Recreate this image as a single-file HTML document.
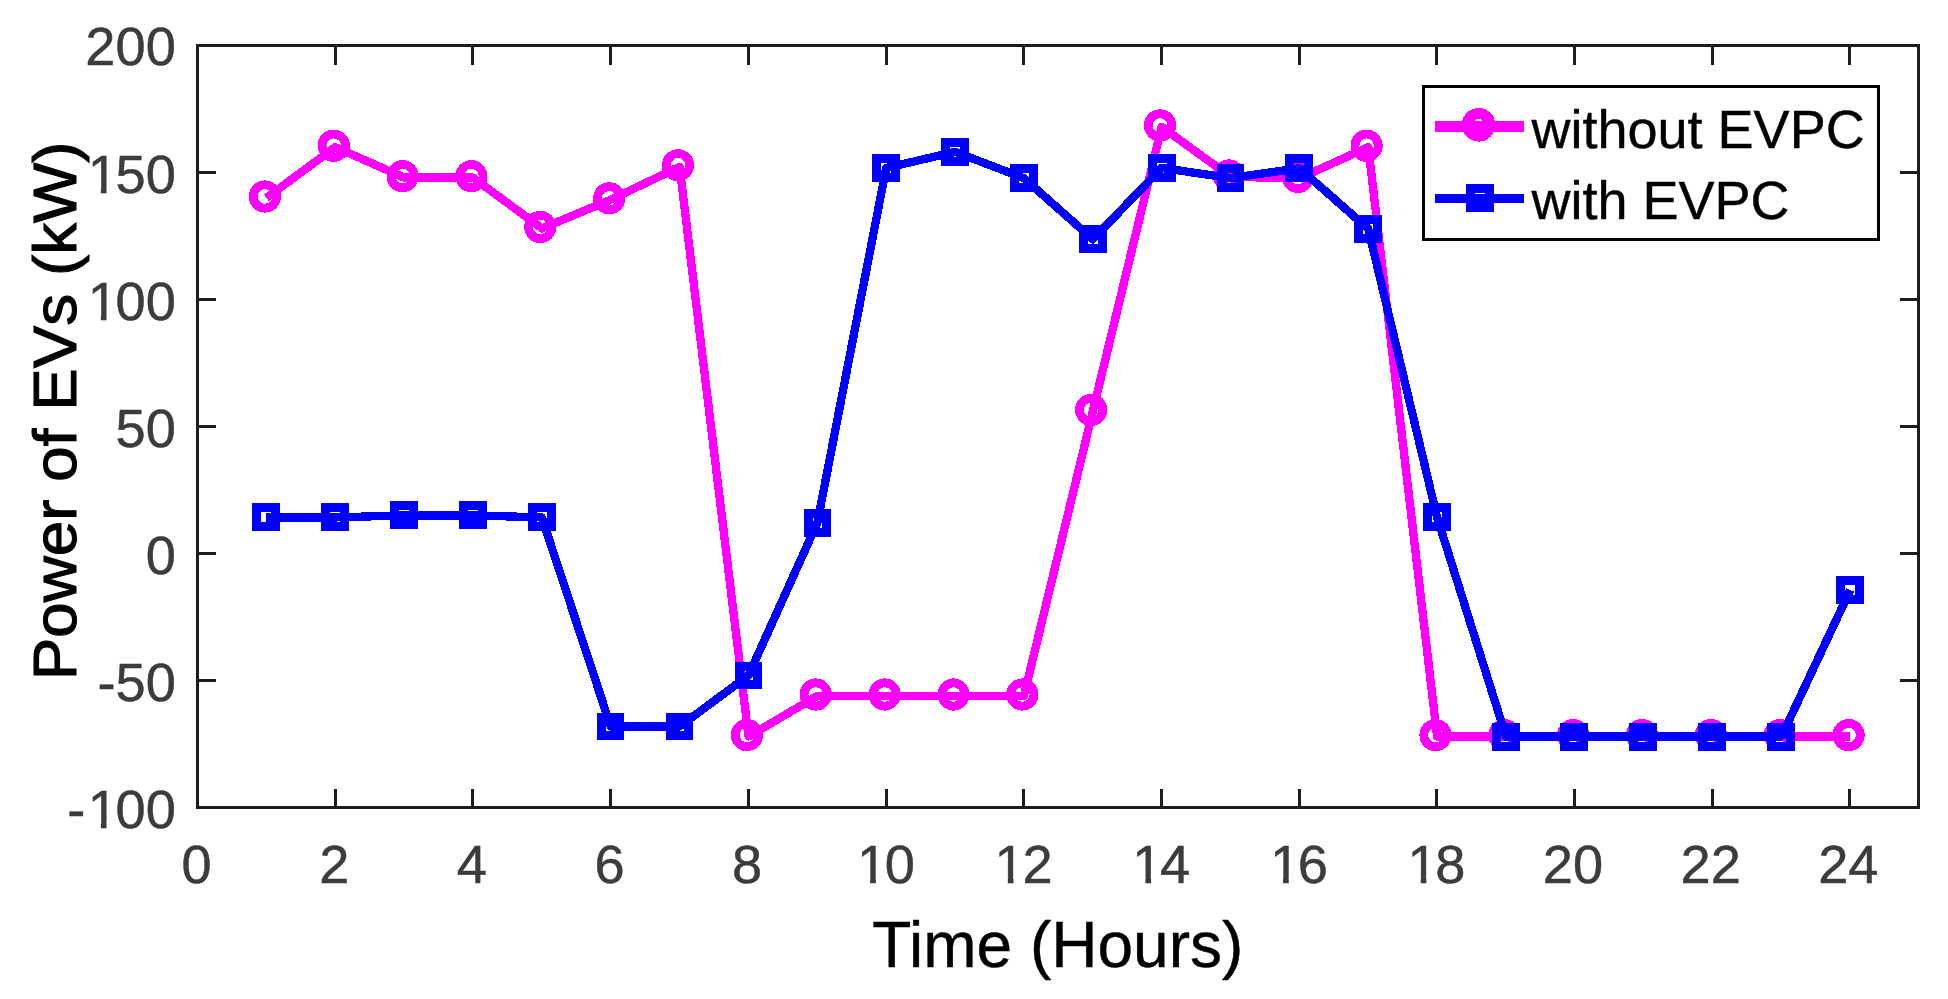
<!DOCTYPE html>
<html lang="en"><head><meta charset="utf-8"><title>Power of EVs</title>
<style>html,body{margin:0;padding:0;background:#fff;overflow:hidden;}svg{display:block;}text{font-family:"Liberation Sans",sans-serif;}</style>
</head><body>
<svg width="1948" height="999" viewBox="0 0 1948 999">
<rect x="0" y="0" width="1948" height="999" fill="#ffffff"/>
<g stroke="#1c1c1c" stroke-width="3" fill="none" shape-rendering="crispEdges">
<rect x="197.5" y="45.5" width="1721.0" height="762.0"/>
<line x1="197.5" y1="807.5" x2="197.5" y2="789.0"/>
<line x1="197.5" y1="45.5" x2="197.5" y2="65.0"/>
<line x1="335.5" y1="807.5" x2="335.5" y2="789.0"/>
<line x1="335.5" y1="45.5" x2="335.5" y2="65.0"/>
<line x1="472.5" y1="807.5" x2="472.5" y2="789.0"/>
<line x1="472.5" y1="45.5" x2="472.5" y2="65.0"/>
<line x1="610.5" y1="807.5" x2="610.5" y2="789.0"/>
<line x1="610.5" y1="45.5" x2="610.5" y2="65.0"/>
<line x1="748.5" y1="807.5" x2="748.5" y2="789.0"/>
<line x1="748.5" y1="45.5" x2="748.5" y2="65.0"/>
<line x1="886.5" y1="807.5" x2="886.5" y2="789.0"/>
<line x1="886.5" y1="45.5" x2="886.5" y2="65.0"/>
<line x1="1023.5" y1="807.5" x2="1023.5" y2="789.0"/>
<line x1="1023.5" y1="45.5" x2="1023.5" y2="65.0"/>
<line x1="1161.5" y1="807.5" x2="1161.5" y2="789.0"/>
<line x1="1161.5" y1="45.5" x2="1161.5" y2="65.0"/>
<line x1="1299.5" y1="807.5" x2="1299.5" y2="789.0"/>
<line x1="1299.5" y1="45.5" x2="1299.5" y2="65.0"/>
<line x1="1436.5" y1="807.5" x2="1436.5" y2="789.0"/>
<line x1="1436.5" y1="45.5" x2="1436.5" y2="65.0"/>
<line x1="1574.5" y1="807.5" x2="1574.5" y2="789.0"/>
<line x1="1574.5" y1="45.5" x2="1574.5" y2="65.0"/>
<line x1="1712.5" y1="807.5" x2="1712.5" y2="789.0"/>
<line x1="1712.5" y1="45.5" x2="1712.5" y2="65.0"/>
<line x1="1849.5" y1="807.5" x2="1849.5" y2="789.0"/>
<line x1="1849.5" y1="45.5" x2="1849.5" y2="65.0"/>
<line x1="197.5" y1="807.5" x2="216.0" y2="807.5"/>
<line x1="1918.5" y1="807.5" x2="1900.0" y2="807.5"/>
<line x1="197.5" y1="680.5" x2="216.0" y2="680.5"/>
<line x1="1918.5" y1="680.5" x2="1900.0" y2="680.5"/>
<line x1="197.5" y1="553.5" x2="216.0" y2="553.5"/>
<line x1="1918.5" y1="553.5" x2="1900.0" y2="553.5"/>
<line x1="197.5" y1="426.5" x2="216.0" y2="426.5"/>
<line x1="1918.5" y1="426.5" x2="1900.0" y2="426.5"/>
<line x1="197.5" y1="299.5" x2="216.0" y2="299.5"/>
<line x1="1918.5" y1="299.5" x2="1900.0" y2="299.5"/>
<line x1="197.5" y1="172.5" x2="216.0" y2="172.5"/>
<line x1="1918.5" y1="172.5" x2="1900.0" y2="172.5"/>
<line x1="197.5" y1="45.5" x2="216.0" y2="45.5"/>
<line x1="1918.5" y1="45.5" x2="1900.0" y2="45.5"/>
</g>
<g fill="#3c3c3c" stroke="#3c3c3c" stroke-width="0.5" font-size="54.2">
<text x="181.53" y="882.8">0</text>
<text x="319.17" y="882.8">2</text>
<text x="456.81" y="882.8">4</text>
<text x="594.45" y="882.8">6</text>
<text x="732.09" y="882.8">8</text>
<text x="856.96 884.80" y="882.8">10</text>
<text x="994.60 1022.44" y="882.8">12</text>
<text x="1132.24 1160.08" y="882.8">14</text>
<text x="1269.88 1297.72" y="882.8">16</text>
<text x="1407.52 1435.36" y="882.8">18</text>
<text x="1542.86 1573.00" y="882.8">20</text>
<text x="1680.50 1710.64" y="882.8">22</text>
<text x="1818.14 1848.28" y="882.8">24</text>
<text x="67.32 87.67 115.51 145.66" y="828.1">-100</text>
<text x="97.46 115.51 145.66" y="701.1">-50</text>
<text x="145.66" y="574.1">0</text>
<text x="115.51 145.66" y="447.1">50</text>
<text x="87.67 115.51 145.66" y="320.1">100</text>
<text x="87.67 115.51 145.66" y="193.1">150</text>
<text x="85.37 115.51 145.66" y="65.2">200</text>
</g>
<g fill="#ffffff">
<rect x="859.69" y="877.35" width="10.45" height="6.85"/>
<rect x="875.83" y="877.35" width="10.03" height="6.85"/>
<rect x="997.33" y="877.35" width="10.45" height="6.85"/>
<rect x="1013.47" y="877.35" width="10.03" height="6.85"/>
<rect x="1134.97" y="877.35" width="10.45" height="6.85"/>
<rect x="1151.11" y="877.35" width="10.03" height="6.85"/>
<rect x="1272.61" y="877.35" width="10.45" height="6.85"/>
<rect x="1288.75" y="877.35" width="10.03" height="6.85"/>
<rect x="1410.25" y="877.35" width="10.45" height="6.85"/>
<rect x="1426.39" y="877.35" width="10.03" height="6.85"/>
<rect x="90.40" y="822.65" width="10.45" height="6.85"/>
<rect x="106.54" y="822.65" width="10.03" height="6.85"/>
<rect x="90.40" y="314.65" width="10.45" height="6.85"/>
<rect x="106.54" y="314.65" width="10.03" height="6.85"/>
<rect x="90.40" y="187.65" width="10.45" height="6.85"/>
<rect x="106.54" y="187.65" width="10.03" height="6.85"/>
</g>
<text x="1057.8" y="967" font-size="64" text-anchor="middle" fill="#000" stroke="#000" stroke-width="0.4">Time (Hours)</text>
<text transform="translate(75.6,410.9) rotate(-90) scale(1,0.965)" font-size="63.8" text-anchor="middle" fill="#000" stroke="#000" stroke-width="1.1">Power of EVs (kW)</text>
<g stroke="#ff00ff" stroke-width="8.3" fill="none" stroke-linejoin="round" shape-rendering="crispEdges"><polyline points="266.4,197.9 335.3,147.1 404.1,177.6 473.0,177.6 541.9,228.4 610.7,199.7 679.6,166.7 748.5,736.5 817.3,695.9 886.2,695.9 955.1,695.9 1023.9,695.9 1092.8,411.3 1161.7,126.8 1230.5,176.8 1299.4,178.3 1368.3,147.1 1437.1,736.5 1506.0,736.5 1574.8,736.5 1643.7,736.5 1712.6,736.5 1781.4,736.5 1850.3,736.5"/><circle cx="264.9" cy="196.5" r="11.7" stroke-width="8.8"/><circle cx="333.7" cy="145.7" r="11.7" stroke-width="8.8"/><circle cx="402.6" cy="176.2" r="11.7" stroke-width="8.8"/><circle cx="471.4" cy="176.2" r="11.7" stroke-width="8.8"/><circle cx="540.3" cy="227.0" r="11.7" stroke-width="8.8"/><circle cx="609.2" cy="198.3" r="11.7" stroke-width="8.8"/><circle cx="678.0" cy="165.3" r="11.7" stroke-width="8.8"/><circle cx="746.9" cy="735.1" r="11.7" stroke-width="8.8"/><circle cx="815.7" cy="694.5" r="11.7" stroke-width="8.8"/><circle cx="884.6" cy="694.5" r="11.7" stroke-width="8.8"/><circle cx="953.5" cy="694.5" r="11.7" stroke-width="8.8"/><circle cx="1022.3" cy="694.5" r="11.7" stroke-width="8.8"/><circle cx="1091.2" cy="409.9" r="11.7" stroke-width="8.8"/><circle cx="1160.0" cy="125.4" r="11.7" stroke-width="8.8"/><circle cx="1228.9" cy="175.4" r="11.7" stroke-width="8.8"/><circle cx="1297.8" cy="176.9" r="11.7" stroke-width="8.8"/><circle cx="1366.6" cy="145.7" r="11.7" stroke-width="8.8"/><circle cx="1435.5" cy="735.1" r="11.7" stroke-width="8.8"/><circle cx="1504.3" cy="735.1" r="11.7" stroke-width="8.8"/><circle cx="1573.2" cy="735.1" r="11.7" stroke-width="8.8"/><circle cx="1642.1" cy="735.1" r="11.7" stroke-width="8.8"/><circle cx="1710.9" cy="735.1" r="11.7" stroke-width="8.8"/><circle cx="1779.8" cy="735.1" r="11.7" stroke-width="8.8"/><circle cx="1848.6" cy="735.1" r="11.7" stroke-width="8.8"/></g>
<g stroke="#0000ff" stroke-width="8.3" fill="none" stroke-linejoin="round" shape-rendering="crispEdges"><polyline points="266.4,517.4 335.3,517.4 404.1,515.4 473.0,515.4 541.9,517.4 610.7,726.5 679.6,726.5 748.5,675.4 817.3,523.0 886.2,167.9 955.1,151.9 1023.9,178.1 1092.8,239.3 1161.7,167.9 1230.5,178.1 1299.4,168.2 1368.3,228.9 1437.1,517.2 1506.0,736.6 1574.8,736.6 1643.7,736.6 1712.6,736.6 1781.4,736.6 1850.3,590.0"/><rect x="256.5" y="507.5" width="19" height="19" stroke-width="9" stroke-linejoin="miter"/><rect x="325.5" y="507.5" width="19" height="19" stroke-width="9" stroke-linejoin="miter"/><rect x="394.5" y="505.5" width="19" height="19" stroke-width="9" stroke-linejoin="miter"/><rect x="463.5" y="505.5" width="19" height="19" stroke-width="9" stroke-linejoin="miter"/><rect x="532.5" y="507.5" width="19" height="19" stroke-width="9" stroke-linejoin="miter"/><rect x="601.5" y="717.5" width="18" height="18" stroke-width="9" stroke-linejoin="miter"/><rect x="670.5" y="717.5" width="18" height="18" stroke-width="9" stroke-linejoin="miter"/><rect x="739.5" y="666.5" width="18" height="18" stroke-width="9" stroke-linejoin="miter"/><rect x="808.5" y="513.5" width="18" height="19" stroke-width="9" stroke-linejoin="miter"/><rect x="876.5" y="158.5" width="19" height="19" stroke-width="9" stroke-linejoin="miter"/><rect x="945.5" y="142.5" width="19" height="19" stroke-width="9" stroke-linejoin="miter"/><rect x="1014.5" y="168.5" width="19" height="19" stroke-width="9" stroke-linejoin="miter"/><rect x="1083.5" y="229.5" width="19" height="19" stroke-width="9" stroke-linejoin="miter"/><rect x="1152.5" y="158.5" width="19" height="19" stroke-width="9" stroke-linejoin="miter"/><rect x="1221.5" y="168.5" width="18" height="19" stroke-width="9" stroke-linejoin="miter"/><rect x="1289.5" y="158.5" width="19" height="19" stroke-width="9" stroke-linejoin="miter"/><rect x="1358.5" y="219.5" width="19" height="19" stroke-width="9" stroke-linejoin="miter"/><rect x="1427.5" y="507.5" width="19" height="19" stroke-width="9" stroke-linejoin="miter"/><rect x="1496.5" y="727.5" width="19" height="19" stroke-width="9" stroke-linejoin="miter"/><rect x="1564.5" y="727.5" width="19" height="19" stroke-width="9" stroke-linejoin="miter"/><rect x="1633.5" y="727.5" width="19" height="19" stroke-width="9" stroke-linejoin="miter"/><rect x="1702.5" y="727.5" width="19" height="19" stroke-width="9" stroke-linejoin="miter"/><rect x="1771.5" y="727.5" width="19" height="19" stroke-width="9" stroke-linejoin="miter"/><rect x="1840.5" y="580.5" width="19" height="19" stroke-width="9" stroke-linejoin="miter"/></g>
<rect x="1423.5" y="86.5" width="455" height="152.5" fill="#fff" stroke="#000" stroke-width="3" shape-rendering="crispEdges"/>
<g fill="none" shape-rendering="crispEdges">
<line x1="1434.6" y1="126.1" x2="1524.1" y2="126.1" stroke="#ff00ff" stroke-width="11"/>
<circle cx="1478.6" cy="124.8" r="11.3" stroke="#ff00ff" stroke-width="11"/>
<line x1="1434.6" y1="198.5" x2="1524.1" y2="198.5" stroke="#0000ff" stroke-width="9"/>
<rect x="1471.6" y="189.4" width="17" height="17" stroke="#0000ff" stroke-width="11"/>
<rect x="1475" y="193" width="10" height="1" fill="#ffffff"/>
</g>
<g fill="#000" stroke="#000" stroke-width="0.4" font-size="54">
<text x="1531.5" y="148">without EVPC</text>
<text x="1531.5" y="219">with EVPC</text>
</g>
</svg></body></html>
